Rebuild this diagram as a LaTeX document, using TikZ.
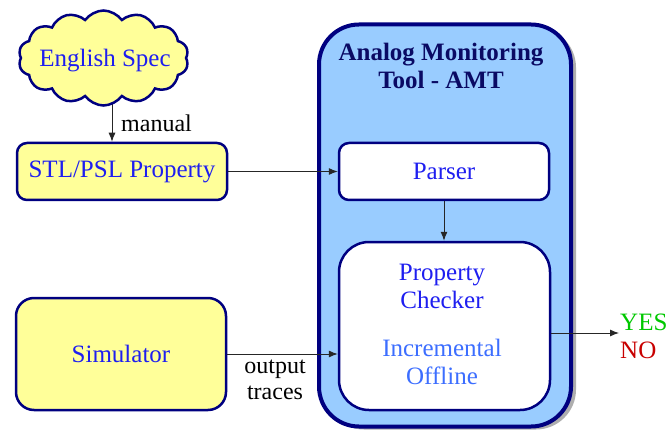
\documentclass[tikz,border=0pt]{standalone}
\usepackage{fontspec}
\setmainfont{Liberation Serif}
\usetikzlibrary{shapes.symbols,shadows,arrows.meta,backgrounds}
\definecolor{navyb}{RGB}{0,0,128}
\definecolor{txtblue}{RGB}{30,30,240}
\definecolor{ltxtblue}{RGB}{60,110,255}
\definecolor{ttlnavy}{RGB}{10,10,100}
\definecolor{ylw}{RGB}{255,255,153}
\definecolor{amtblue}{RGB}{153,204,255}
\definecolor{yesgreen}{RGB}{0,200,0}
\definecolor{nored}{RGB}{200,0,0}
\begin{document}
\begin{tikzpicture}[x=1pt,y=-1pt,
  bigfont/.style={font=\fontsize{25}{28}\selectfont},
  ybox/.style={draw=navyb,line width=2.5pt,fill=ylw,rounded corners=#1,text=txtblue,bigfont,inner sep=0pt},
  wbox/.style={draw=navyb,line width=2.5pt,fill=white,rounded corners=#1,text=txtblue,bigfont,inner sep=0pt},
  conn/.style={draw=black!85,line width=0.9pt,-{Latex[length=9pt,width=7pt]}},
  plain/.style={bigfont,inner sep=0pt,align=center}]
\useasboundingbox (0,0) rectangle (668,430);
% AMT container
\node[draw=navyb,line width=4pt,fill=amtblue,rounded corners=40pt,
  minimum width=252pt,minimum height=402pt,
  drop shadow={shadow xshift=5pt,shadow yshift=-3pt,fill=black!45,opacity=0.7}] (amt) at (445,225.5) {};
\node[plain,font=\fontsize{25}{28}\selectfont\bfseries,text=ttlnavy] (ttl) at (441,66) {Analog Monitoring\\Tool - AMT};
% cloud
\node[cloud,cloud puffs=14,cloud puff arc=110,aspect=1.9,draw=navyb,line width=2.5pt,fill=ylw,
  minimum width=170pt,minimum height=95pt,inner sep=0pt] (cloud) at (103.5,58) {};
\node[plain,text=txtblue] (cloudtxt) at (105,61) {English Spec};
% boxes
\node[ybox=10pt,minimum width=210pt,minimum height=57pt] (stl) at (122,171.5) {STL/PSL Property};
\node[ybox=18pt,minimum width=210pt,minimum height=112pt] (sim) at (121,354) {Simulator};
\node[wbox=10pt,minimum width=210pt,minimum height=57pt] (parser) at (444,171.5) {Parser};
\node[wbox=30pt,minimum width=211pt,minimum height=168pt] (pc) at (444.5,326) {};
\node[plain,text=txtblue] (pct) at (442,286) {Property\\Checker};
\node[plain,text=ltxtblue] (pcm) at (442,362) {Incremental\\Offline};
% connectors
\coordinate (ca) at ([xshift=8.5pt]cloud.south);
\begin{scope}[on background layer]
\draw[conn] ([yshift=12pt]ca) -- (ca |- stl.north);
\end{scope}
\node[plain,anchor=west,font=\fontsize{24}{26}\selectfont] (manual) at (121,123) {manual};
\draw[conn] (stl.east) -- (stl.east -| parser.west);
\draw[conn] (parser.south) -- (parser.south |- pc.north);
\draw[conn] (sim.east) -- (sim.east -| pc.west);
\node[plain,font=\fontsize{24}{26}\selectfont] (traces) at (275,380) {output\\traces};
\coordinate (out) at (619,333);
\draw[conn] (pc.east |- out) -- (out);
\node[plain,anchor=west,align=left] (yesno) at (620,336) {\textcolor{yesgreen}{YES}\\\textcolor{nored}{NO}};
\end{tikzpicture}
\end{document}
